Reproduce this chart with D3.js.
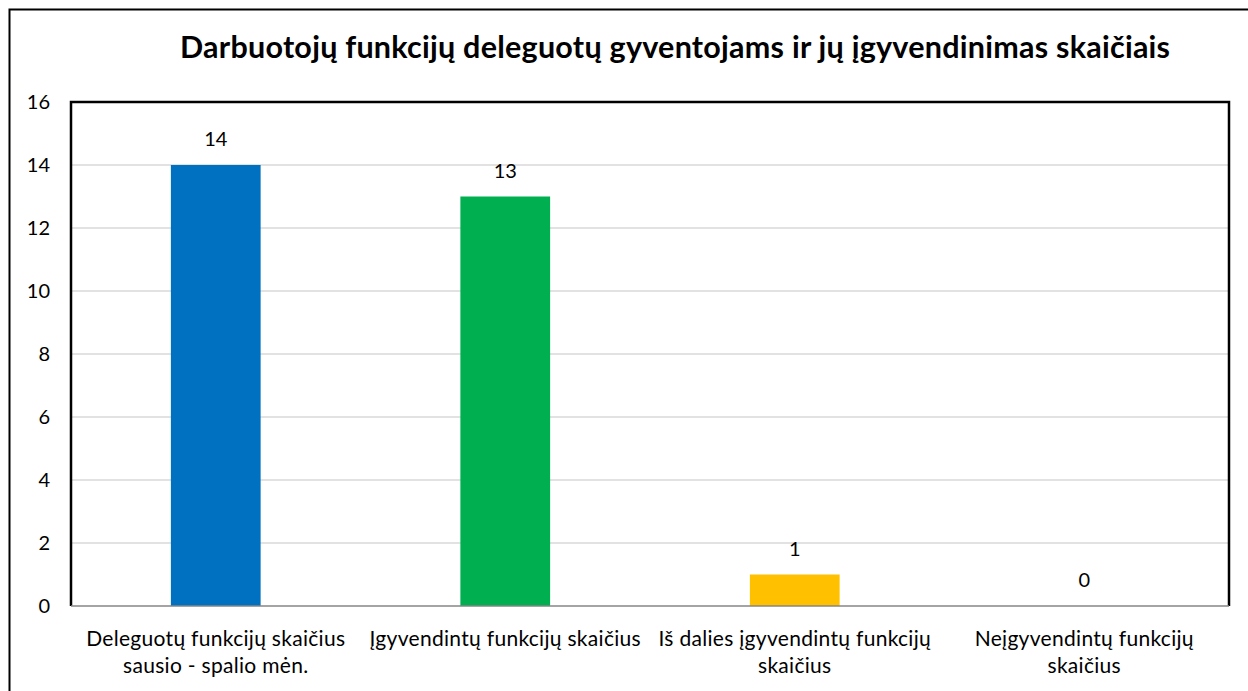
<!DOCTYPE html>
<html>
<head>
<meta charset="utf-8">
<script src="https://cdn.jsdelivr.net/npm/d3@7"></script>
<style>
  body { margin: 0; background: #fff; }
  text { font-family: Lato, "Open Sans", sans-serif; }
</style>
</head>
<body>
<div id="chart"></div>
<script>
// chart data
var title = "Darbuotojų funkcijų deleguotų gyventojams ir jų įgyvendinimas skaičiais";
var categories = [
    ["Deleguotų funkcijų skaičius", "sausio - spalio mėn."],
    ["Įgyvendintų funkcijų skaičius"],
    ["Iš dalies įgyvendintų funkcijų", "skaičius"],
    ["Neįgyvendintų funkcijų", "skaičius"]
];
var values = [14, 13, 1, 0];
var colors = ["#0070C0", "#00B050", "#FFC000", "#7F7F7F"];
var yTicks = [0, 2, 4, 6, 8, 10, 12, 14, 16];

var W = 1248, H = 691;
var margin = { top: 102, right: 19, bottom: 85, left: 71 },
    width = W - margin.left - margin.right,
    height = H - margin.top - margin.bottom;

var svg = d3.select("#chart").append("svg")
    .attr("width", W)
    .attr("height", H);

// outer frame (cropped at right and bottom)
svg.append("rect")
    .attr("x", 9.5)
    .attr("y", 9.5)
    .attr("width", W + 20)
    .attr("height", H + 20)
    .attr("fill", "none")
    .attr("stroke", "#000")
    .attr("stroke-width", 2);

// title
svg.append("text")
    .attr("x", 675)
    .attr("y", 58)
    .attr("text-anchor", "middle")
    .attr("font-size", "30.5px")
    .attr("font-weight", "bold")
    .attr("fill", "#000")
    .attr("textLength", 990)
    .attr("lengthAdjust", "spacing")
    .text(title);

var g = svg.append("g")
    .attr("transform", "translate(" + margin.left + "," + margin.top + ")");

var x = d3.scaleBand()
    .domain(d3.range(categories.length))
    .range([0, width])
    .paddingInner(0.69)
    .paddingOuter(0.345);

var xc = d3.scaleBand()
    .domain(d3.range(categories.length))
    .range([0, width]);

var y = d3.scaleLinear()
    .domain([0, 16])
    .range([height, 0]);

// gridlines
g.selectAll(".grid")
    .data(yTicks.slice(1))
    .join("line")
    .attr("x1", 0)
    .attr("x2", width)
    .attr("y1", function(d) { return y(d); })
    .attr("y2", function(d) { return y(d); })
    .attr("stroke", "#D9D9D9")
    .attr("stroke-width", 1.5);

// y axis labels
g.selectAll(".ylab")
    .data(yTicks)
    .join("text")
    .attr("x", -21)
    .attr("y", function(d) { return y(d); })
    .attr("dy", "0.35em")
    .attr("text-anchor", "end")
    .attr("font-size", "20px")
    .attr("fill", "#000")
    .text(function(d) { return d; });

// bars
g.selectAll(".bar")
    .data(values)
    .join("rect")
    .attr("x", function(d, i) { return x(i); })
    .attr("y", function(d) { return y(d); })
    .attr("width", x.bandwidth())
    .attr("height", function(d) { return height - y(d); })
    .attr("fill", function(d, i) { return colors[i]; });

// value labels
g.selectAll(".val")
    .data(values)
    .join("text")
    .attr("x", function(d, i) { return x(i) + x.bandwidth() / 2; })
    .attr("y", function(d) { return y(d) - 19; })
    .attr("text-anchor", "middle")
    .attr("font-size", "20px")
    .attr("fill", "#000")
    .text(function(d) { return d; });

// plot border: top, left, right black, bottom grey
g.append("path")
    .attr("d", "M0," + height + "V0H" + width + "V" + height)
    .attr("fill", "none")
    .attr("stroke", "#000")
    .attr("stroke-width", 2.5);

g.append("line")
    .attr("x1", 0)
    .attr("x2", width)
    .attr("y1", height)
    .attr("y2", height)
    .attr("stroke", "#868686")
    .attr("stroke-width", 1.5);

// category labels
var cat = g.selectAll(".cat")
    .data(categories)
    .join("text")
    .attr("text-anchor", "middle")
    .attr("font-size", "21px")
    .attr("letter-spacing", "0.3px")
    .attr("fill", "#000")
    .attr("transform", function(d, i) {
        return "translate(" + (xc(i) + xc.bandwidth() / 2) + "," + (height + 40) + ")";
    });

cat.selectAll("tspan")
    .data(function(d) { return d; })
    .join("tspan")
    .attr("x", 0)
    .attr("dy", function(d, i) { return i === 0 ? 0 : 27; })
    .text(function(d) { return d; });
</script>
</body>
</html>
